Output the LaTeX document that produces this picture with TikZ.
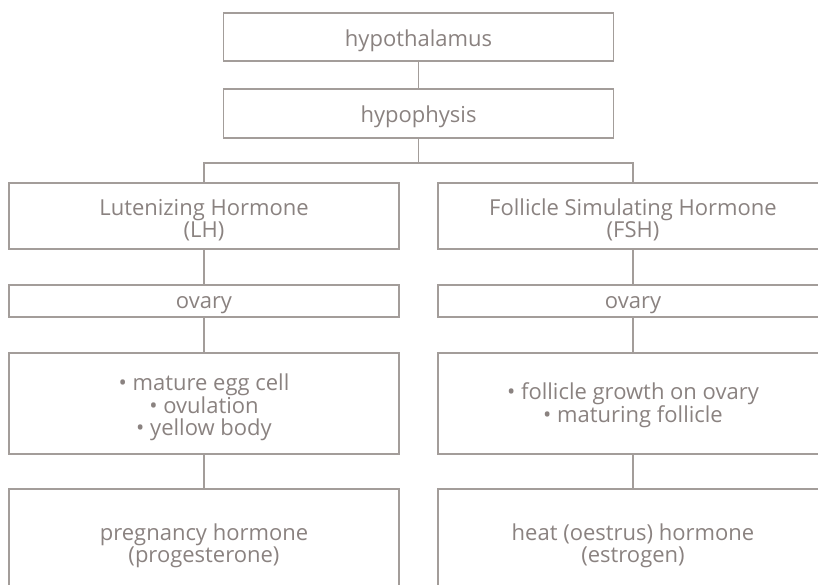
\documentclass[tikz,border=0pt]{standalone}
\usepackage{fontspec}
\setmainfont{Open Sans}
\definecolor{txt}{HTML}{8A8280}
\definecolor{ln}{HTML}{A39D9A}
\begin{document}
\begin{tikzpicture}[x=1pt,y=-1pt,
  box/.style={draw=ln,line width=1.4pt,rectangle,inner sep=0pt,
    minimum width=390pt},
  lbl/.style={inner sep=0pt,align=center,text=txt,
    font=\fontsize{22}{21.5}\selectfont},
  conn/.style={draw=ln,line width=1.4pt}]
\useasboundingbox (0,0) rectangle (818,584);
\clip (0,0) rectangle (818,584);
\node[box,minimum height=48pt] (hyt) at (418.5,37) {};
\node[box,minimum height=49pt] (hyp) at (418.5,113.5) {};
\coordinate (br) at (418.5,163);
\node[box,minimum height=66pt] (lh) at (204,216) {};
\node[box,minimum height=66pt] (fsh) at (633,216) {};
\node[box,minimum height=32pt] (ovl) at (204,301) {};
\node[box,minimum height=32pt] (ovr) at (633,301) {};
\node[box,minimum height=101pt] (efl) at (204,403.5) {};
\node[box,minimum height=101pt] (efr) at (633,403.5) {};
\node[box,minimum height=110pt] (hol) at (204,544) {};
\node[box,minimum height=110pt] (hor) at (633,544) {};
\node[lbl] (hytt) at ([yshift=-3.5pt]hyt.center) {hypothalamus};
\node[lbl] (hypt) at ([yshift=-3pt]hyp.center) {hypophysis};
\node[lbl] (lht) at ([yshift=-4pt]lh.center) {Lutenizing Hormone\\(LH)};
\node[lbl] (fsht) at ([yshift=-4pt]fsh.center) {Follicle Simulating Hormone\\(FSH)};
\node[lbl] (ovlt) at ([yshift=-4pt]ovl.center) {ovary};
\node[lbl] (ovrt) at ([yshift=-4pt]ovr.center) {ovary};
\node[lbl] (eflt) at ([yshift=-4pt]efl.center) {• mature egg cell\\• ovulation\\• yellow body};
\node[lbl] (efrt) at ([yshift=-2pt]efr.center) {• follicle growth on ovary\\• maturing follicle};
\node[lbl] (holt) at ([yshift=-2pt]hol.center) {pregnancy hormone\\(progesterone)};
\node[lbl] (hort) at ([yshift=-2pt]hor.center) {heat (oestrus) hormone\\(estrogen)};
\draw[conn] (hyt.south) -- (hyp.north);
\draw[conn] (hyp.south) -- (br);
\draw[conn] (lh.north) |- (br) -| (fsh.north);
\draw[conn] (lh.south) -- (ovl.north);
\draw[conn] (fsh.south) -- (ovr.north);
\draw[conn] (ovl.south) -- (efl.north);
\draw[conn] (ovr.south) -- (efr.north);
\draw[conn] (efl.south) -- (hol.north);
\draw[conn] (efr.south) -- (hor.north);
\end{tikzpicture}
\end{document}
